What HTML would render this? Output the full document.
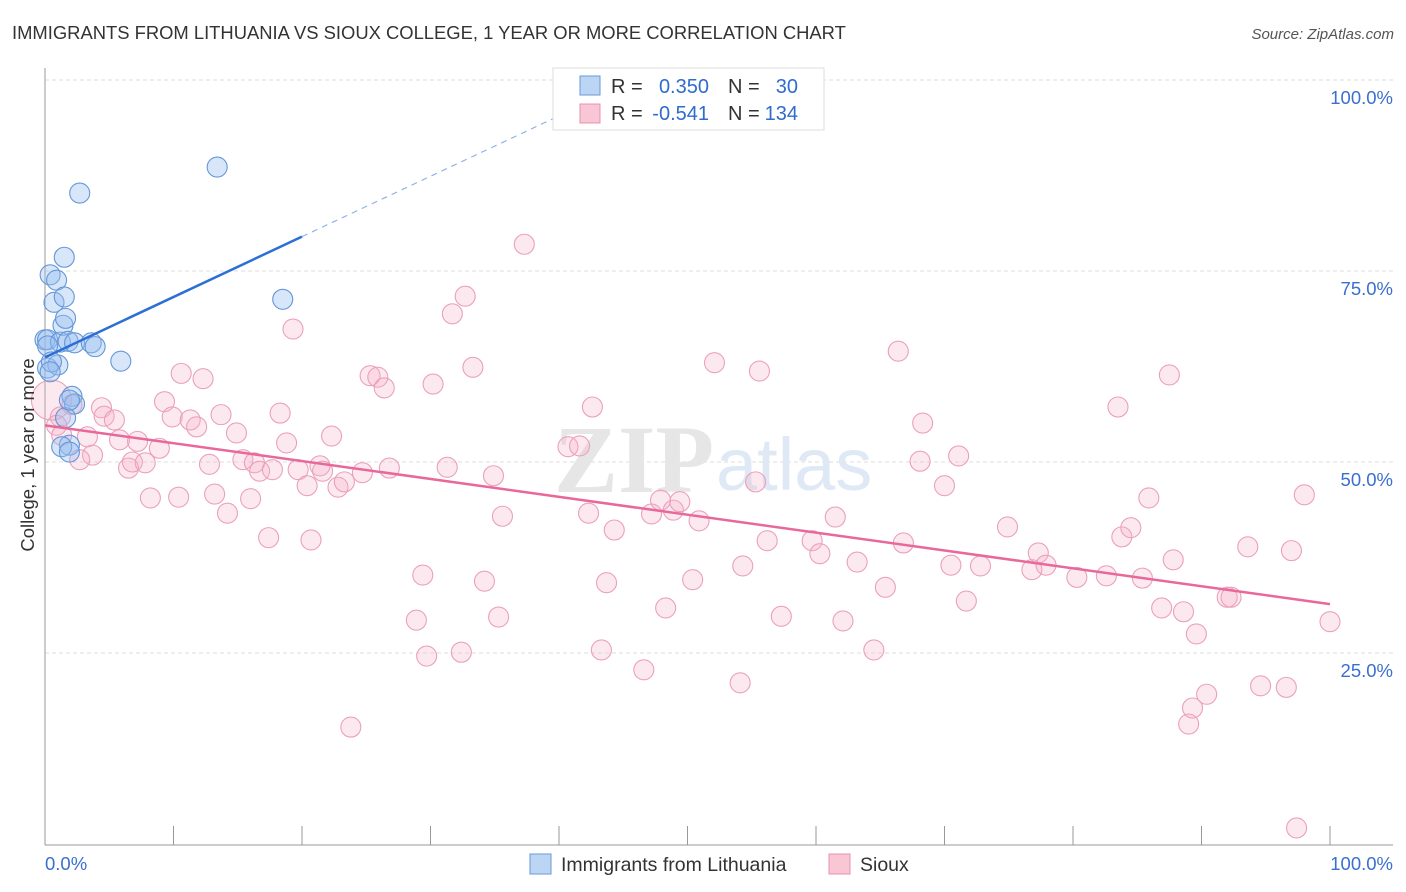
<!DOCTYPE html>
<html><head><meta charset="utf-8">
<style>
body{margin:0;background:#fff;font-family:"Liberation Sans",sans-serif;}
#wrap{position:relative;width:1406px;height:892px;overflow:hidden;}
</style></head>
<body>
<div id="wrap">
<svg id="svg" width="1406" height="892" xmlns="http://www.w3.org/2000/svg">
<text x="12" y="39" font-size="18.4" fill="#333">IMMIGRANTS FROM LITHUANIA VS SIOUX COLLEGE, 1 YEAR OR MORE CORRELATION CHART</text>
<text x="1394" y="39" font-size="15" fill="#555" font-style="italic" text-anchor="end">Source: ZipAtlas.com</text>
<g id="grid"></g>
<text x="714" y="492" font-size="96" fill="#e6e6e6" font-family="Liberation Serif" font-weight="bold" text-anchor="end">ZIP</text>
<text x="716" y="490" font-size="74" fill="#dfe9f6">atlas</text>
<g id="axes"></g>
<g id="pts"></g>
<g id="trends"></g>
<text transform="translate(34,455) rotate(-90)" font-size="18.5" fill="#333" text-anchor="middle">College, 1 year or more</text>
<g>
<rect x="553" y="68" width="271" height="62" fill="#fff" stroke="#ddd"/>
<rect x="580" y="76" width="20" height="19" fill="#bcd5f5" stroke="#6a9ad8"/>
<rect x="580" y="104" width="20" height="19" fill="#f9c6d6" stroke="#e890ae"/>
<text y="93" font-size="20" fill="#333"><tspan x="611">R =</tspan><tspan x="709" text-anchor="end" fill="#2f6ccc">0.350</tspan><tspan x="728">N =</tspan><tspan x="798" text-anchor="end" fill="#2f6ccc">30</tspan></text>
<text y="120" font-size="20" fill="#333"><tspan x="611">R =</tspan><tspan x="709" text-anchor="end" fill="#2f6ccc">-0.541</tspan><tspan x="728">N =</tspan><tspan x="798" text-anchor="end" fill="#2f6ccc">134</tspan></text>
</g>
<g>
<rect x="530" y="854" width="21" height="20" fill="#bcd5f5" stroke="#6a9ad8"/>
<text x="561" y="871" font-size="19.5" fill="#333">Immigrants from Lithuania</text>
<rect x="829" y="854" width="21" height="20" fill="#f9c6d6" stroke="#e890ae"/>
<text x="860" y="871" font-size="19.5" fill="#333">Sioux</text>
</g>
</svg>
</div>
<script>
const yTicks=[25,50,75,100];
const yTickLabels=["25.0%","50.0%","75.0%","100.0%"];
const xTicks=[0,10,20,30,40,50,60,70,80,90,100];
const blueX=[0,0.2,0.2,0.4,0.7,0.9,1.0,1.2,1.4,1.5,1.6,1.8,2.3,1.9,2.1,2.3,1.6,1.3,1.9,2.7,1.5,3.6,3.9,5.9,13.4,18.5,0.2,0.5,0.4,1.9];
const blueY=[66.0,62.3,66.0,74.5,70.9,73.8,62.7,65.7,67.9,71.6,68.8,65.8,65.6,52.2,58.6,57.6,55.8,52.0,51.3,85.2,76.8,65.6,65.1,63.2,88.6,71.3,65.2,63.1,61.8,58.1];
const pinkX=[0.5,1.2,0.9,2.1,1.3,3.3,3.7,2.7,4.4,4.6,5.4,5.8,6.5,6.8,7.2,7.8,8.2,8.9,9.3,9.9,10.4,10.6,11.3,11.8,12.3,12.8,13.2,13.7,14.2,14.9,15.4,16.0,16.3,16.7,17.4,17.7,18.3,18.8,19.3,19.7,20.4,20.7,21.4,21.6,22.3,22.8,23.3,23.8,24.7,25.3,25.9,26.4,26.8,28.9,29.4,29.7,30.2,31.3,31.7,32.4,32.7,33.3,34.2,34.9,35.3,35.6,37.3,40.7,41.6,42.3,42.6,43.3,43.7,44.3,46.6,47.2,47.9,48.3,48.9,49.4,50.4,50.9,52.1,54.1,54.3,55.3,55.6,56.2,57.3,59.7,60.3,61.5,62.1,63.2,64.5,65.4,66.4,66.8,68.1,68.3,70.0,70.5,71.1,71.7,72.8,74.9,76.8,77.3,77.9,80.3,82.6,83.5,83.8,84.5,85.4,85.9,86.9,87.5,87.8,88.6,89.0,89.3,89.6,90.4,92.0,92.3,93.6,94.6,96.6,97.0,98.0,97.4,100];
const pinkY=[58.1,55.9,54.8,57.5,53.5,53.3,50.9,50.3,57.1,56.0,55.5,52.9,49.2,50.0,52.7,49.9,45.3,51.8,57.9,55.9,45.4,61.6,55.5,54.6,60.9,49.7,45.8,56.2,43.3,53.8,50.3,45.2,49.9,48.8,40.1,49.0,56.4,52.5,67.4,49.0,46.9,39.8,49.5,48.8,53.4,46.7,47.4,15.3,48.6,61.3,61.1,59.7,49.2,29.3,35.2,24.6,60.2,49.3,69.4,25.1,71.7,62.4,34.4,48.2,29.7,42.9,78.5,52.0,52.1,43.3,57.2,25.4,34.2,41.1,22.8,43.2,45.0,30.9,43.7,44.8,34.6,42.3,63.0,21.1,36.4,47.4,61.9,39.7,29.8,39.7,38.0,42.8,29.2,36.9,25.4,33.6,64.5,39.4,50.1,55.1,46.9,36.5,50.8,31.8,36.4,41.5,35.9,38.1,36.5,34.9,35.1,57.2,40.2,41.4,34.8,45.3,30.9,61.4,37.2,30.4,15.7,17.8,27.5,19.6,32.3,32.3,38.9,20.7,20.5,38.4,45.7,2.1,29.1];
const blueTrend=[[0,63.7],[20,79.5],[40,95.3]];
const pinkTrend=[[0,54.8],[100,31.4]];

const NS="http://www.w3.org/2000/svg";
const X=v=>45+v*12.85;
const Y=v=>844-v*7.64;
function mk(tag,attrs,parent){const e=document.createElementNS(NS,tag);for(const k in attrs)e.setAttribute(k,attrs[k]);parent.appendChild(e);return e;}
const grid=document.getElementById('grid'),axes=document.getElementById('axes'),pts=document.getElementById('pts'),tr=document.getElementById('trends');
yTicks.forEach((t,i)=>{
  const l=mk('line',{x1:45,x2:1393,y1:Y(t),y2:Y(t),stroke:'#ddd','stroke-dasharray':'4,3'},grid);
  
  
  const tx=mk('text',{x:1393,y:Y(t)+24,'font-size':18.5,fill:'#3a6fd0','text-anchor':'end'},axes);
  tx.textContent=yTickLabels[i];
  
  
});
const ya=mk('line',{x1:45,x2:45,y1:68,y2:845,stroke:'#999'},axes);


const xa=mk('line',{x1:45,x2:1393,y1:845,y2:845,stroke:'#999'},axes);


xTicks.forEach(t=>{
  const l=mk('line',{x1:X(t),x2:X(t),y1:826,y2:845,stroke:'#999'},axes);
  
  
});
const x0=mk('text',{x:45,y:870,'font-size':18.5,fill:'#3a6fd0'},axes);x0.textContent='0.0%';


const x1=mk('text',{x:1393,y:870,'font-size':18.5,fill:'#3a6fd0','text-anchor':'end'},axes);x1.textContent='100.0%';


pinkX.forEach((v,i)=>{
  const c=mk('circle',{cx:X(v),cy:Y(pinkY[i]),r:i===0?20:10,fill:'rgba(246,175,200,0.28)',stroke:'#eba0ba','stroke-width':1.1},pts);
  
  
});
blueX.forEach((v,i)=>{
  const c=mk('circle',{cx:X(v),cy:Y(blueY[i]),r:10,fill:'rgba(150,190,240,0.38)',stroke:'#6496d8','stroke-width':1.1},pts);
  
  
});
const b1=mk('line',{x1:X(blueTrend[0][0]),y1:Y(blueTrend[0][1]),x2:X(blueTrend[1][0]),y2:Y(blueTrend[1][1]),stroke:'#2c6fd6','stroke-width':2.5},tr);


const b2=mk('line',{x1:X(blueTrend[1][0]),y1:Y(blueTrend[1][1]),x2:X(blueTrend[2][0]),y2:Y(blueTrend[2][1]),stroke:'#8fb4e8','stroke-width':1.2,'stroke-dasharray':'6,5'},tr);


const p1=mk('line',{x1:X(pinkTrend[0][0]),y1:Y(pinkTrend[0][1]),x2:X(pinkTrend[1][0]),y2:Y(pinkTrend[1][1]),stroke:'#e8689a','stroke-width':2.5},tr);


</script>
</body></html>
